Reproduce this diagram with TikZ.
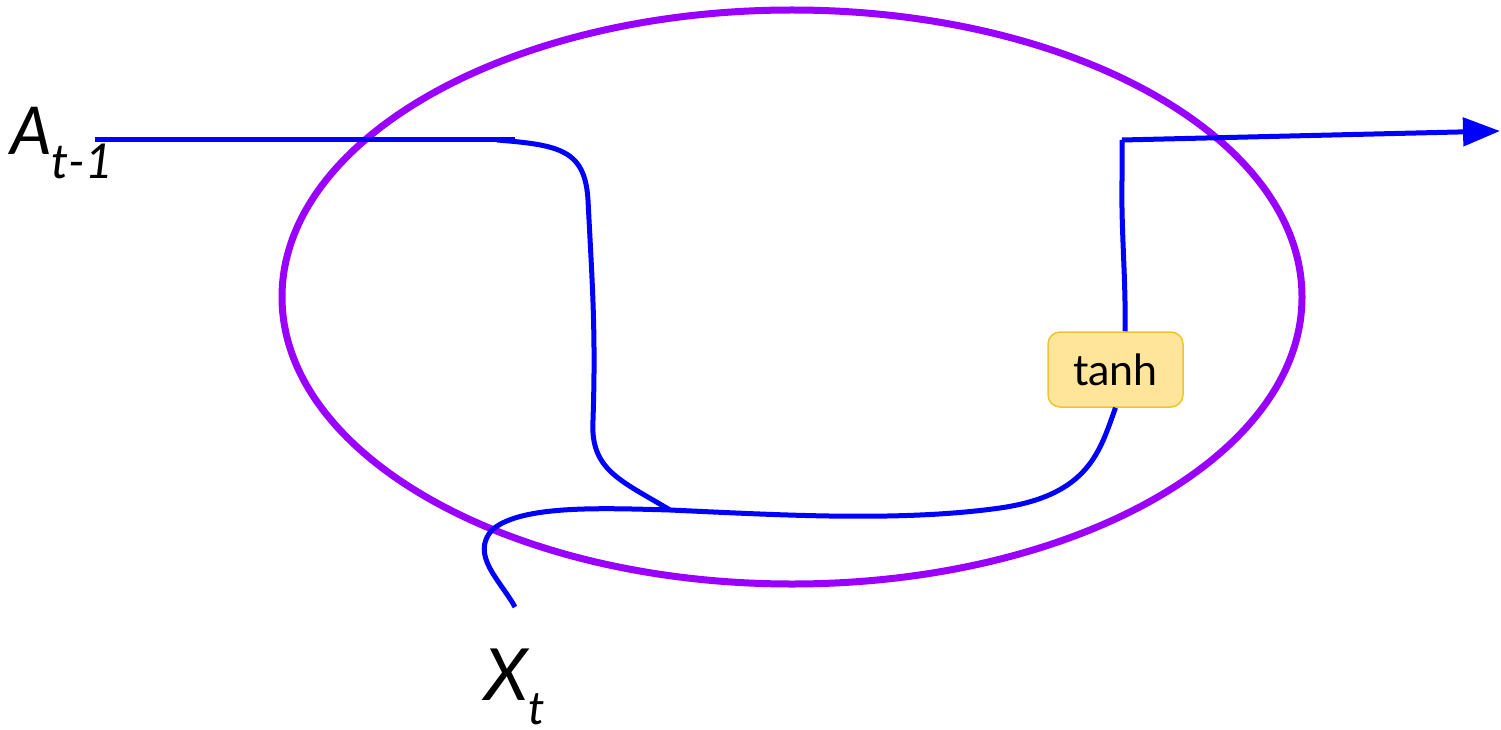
\documentclass[tikz,border=0pt]{standalone}
\usepackage{fontspec}
\setmainfont{Lato}
\usetikzlibrary{arrows.meta}
\definecolor{cellpurple}{RGB}{153,0,255}
\definecolor{wireblue}{RGB}{0,0,255}
\definecolor{gatefill}{RGB}{255,229,153}
\definecolor{gatedraw}{RGB}{241,194,50}
\tikzset{
  wire/.style={draw=wireblue, line width=5pt, line cap=butt},
  cell/.style={draw=cellpurple, line width=7pt},
  gatebox/.style={draw=gatedraw, fill=gatefill, line width=1.5pt, rounded corners=12pt,
     minimum width=135pt, minimum height=75pt, font=\fontsize{43}{46}\selectfont},
  lab/.style={inner sep=0pt, anchor=base west}
}
\begin{document}
\begin{tikzpicture}[x=1pt,y=-1pt]
\useasboundingbox (0,0) rectangle (1501,730);
% cell
\draw[cell] (792,297) ellipse [x radius=510, y radius=287];
% gate
\node[gatebox] (tanh) at (1115.5,369.5) {tanh};
% labels
\node[lab] (A) at (10,155) {\fontsize{66}{70}\selectfont\itshape A\raisebox{-24pt}{\fontsize{48}{50}\selectfont t-1}};
\node[lab] (X) at (484,700) {\fontsize{72}{76}\selectfont\itshape X\raisebox{-24pt}{\fontsize{46}{48}\selectfont t}};
% coordinates
\coordinate (ain) at (95,140);
\coordinate (aend) at (515,140);
\coordinate (join) at (670,510);
\coordinate (xin) at (515,607);
\coordinate (corner) at (1122,140);
\coordinate (out) at (1500,131);
% A_{t-1} line
\draw[wire] (ain) -- (aend);
\draw[wire] (497,140) .. controls (560,145) and (585,150) .. (588,200)
  .. controls (592,280) and (596,330) .. (593,420)
  .. controls (590,470) and (620,480) .. (join);
% X_t line to tanh
\draw[wire] (xin) .. controls (500,580) and (470,555) .. (492,530)
  .. controls (520,505) and (600,508) .. (join)
  .. controls (780,515) and (900,522) .. (1000,508)
  .. controls (1090,495) and (1100,450) .. (tanh.south);
% tanh to output
\draw[wire] (tanh.north -| 1125,0) .. controls (1126,280) and (1121,230) .. (1122,180) -- (corner);
\draw[wire, -{Triangle[length=37pt,width=28pt]}] (corner) -- (out);
\end{tikzpicture}
\end{document}
